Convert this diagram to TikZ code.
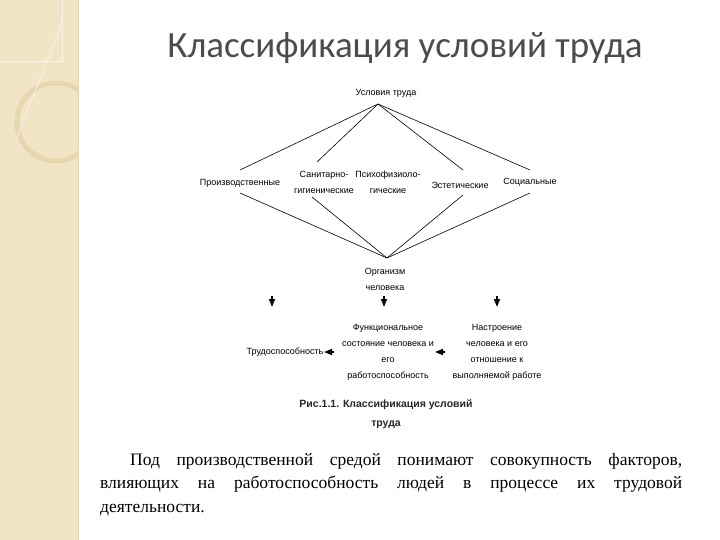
\documentclass[tikz,border=0pt]{standalone}
\usepackage{fontspec}
\setmainfont{Liberation Serif}
\newfontfamily\dfont{Liberation Sans}
\newfontfamily\tfont{Carlito}
\usetikzlibrary{arrows.meta}
\definecolor{stripe}{HTML}{F1E5C6}
\definecolor{ring}{HTML}{E6D7AE}
\begin{document}
\begin{tikzpicture}[x=1pt,y=-1pt,
  lbl/.style={font=\dfont\fontsize{9}{16}\selectfont,align=center,inner sep=1pt},
  ln/.style={line width=0.6pt},
  tip/.style={-{Triangle[length=8pt,width=6pt]},line width=1.6pt}]
\useasboundingbox (0,0) rectangle (720,540);
\fill[white] (0,0) rectangle (720,540);
\fill[stripe] (0,0) rectangle (78,540);
\begin{scope}
\clip (0,0) rectangle (78,540);
\draw[white,line width=1pt,opacity=0.6] (0,62) -- (62,62) -- (62,0);
\draw[ring,line width=5pt] (56,122) circle (39);
\draw[white,line width=0.8pt,opacity=0.6] (16,140) .. controls (30,100) and (50,60) .. (62,20);
\end{scope}
\draw[ring,line width=0.8pt] (78,0) -- (78,540);
\node[font=\tfont\fontsize{37}{40}\selectfont,text=black!70] (title) at (405,48) {Классификация условий труда};
\node[lbl] (top) at (386,93) {Условия труда};
\node[lbl] (org) at (385,279) {Организм\\человека};
\node[lbl] (pr) at (240,183) {Производственные};
\node[lbl] (sg) at (324,182) {Санитарно-\\гигиенические};
\node[lbl] (pf) at (388,182) {Психофизиоло-\\гические};
\node[lbl] (es) at (460,185) {Эстетические};
\node[lbl] (so) at (530,182) {Социальные};
\coordinate (a) at (378,104);
\coordinate (b) at (387,258);
\draw[ln] (a) -- (240,170); \draw[ln] (a) -- (317,162); \draw[ln] (a) -- (463,170); \draw[ln] (a) -- (530,170);
\draw[ln] (b) -- (240,193); \draw[ln] (b) -- (312,197); \draw[ln] (b) -- (463,195); \draw[ln] (b) -- (530,193);
\node[lbl] (td) at (285,352) {Трудоспособность};
\node[lbl] (fs) at (388,352) {Функциональное\\состояние человека и\\его\\работоспособность};
\node[lbl] (ns) at (497,352) {Настроение\\человека и его\\отношение к\\выполняемой работе};
\coordinate (t1) at (272,296); \coordinate (t2) at (384,296); \coordinate (t3) at (497,296);
\draw[tip] (t1) -- ++(0,11); \draw[tip] (t2) -- ++(0,11); \draw[tip] (t3) -- ++(0,11);
\coordinate (l1) at (334,352); \coordinate (l2) at (445,352);
\draw[tip] (l1) -- ++(-10,0); \draw[tip] (l2) -- ++(-10,0);
\node[font=\dfont\bfseries\fontsize{10.5}{19}\selectfont,align=center,text=black!85] (cap) at (386,414) {Рис.1.1. Классификация условий\\труда};
\node[anchor=north west,text width=582pt,align=justify,font=\fontsize{17.5}{23.5}\selectfont,inner sep=0pt] (body) at (100,453)
 {\hspace*{30pt}Под производственной средой понимают совокупность факторов,\linebreak влияющих на работоспособность людей в процессе их трудовой\linebreak деятельности.};
\end{tikzpicture}
\end{document}
